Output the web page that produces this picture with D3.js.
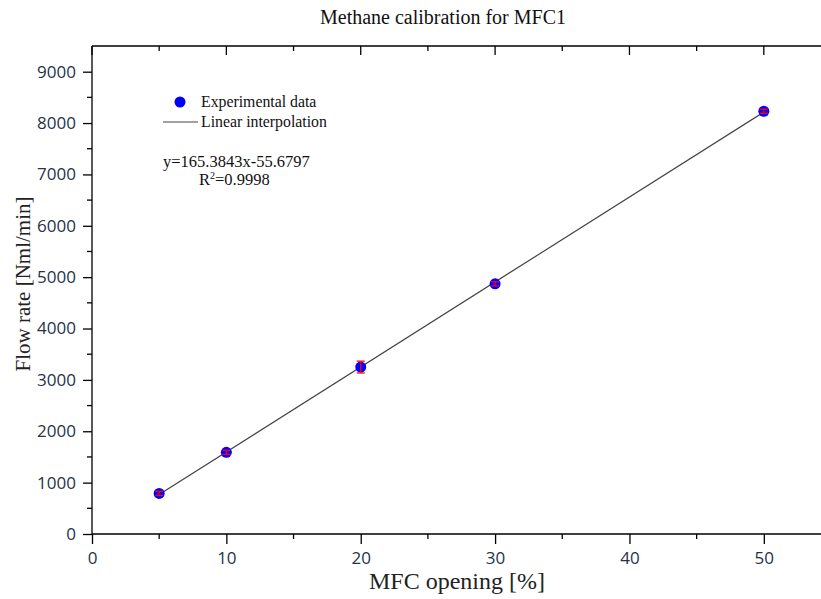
<!DOCTYPE html>
<html>
<head>
<meta charset="utf-8">
<script src="https://cdn.jsdelivr.net/npm/d3@7"></script>
<style>
  body { margin: 0; background: #fff; }
  svg { display: block; }
</style>
</head>
<body>
<svg id="chart" width="821" height="599"></svg>
<script>
const xValues = [5, 10, 20, 30, 50];
const yValues = [790, 1590, 3250, 4870, 8230];
const yErrors = [40, 40, 115, 40, 40];
const xTicks = [0, 10, 20, 30, 40, 50];
const yTicks = [0, 1000, 2000, 3000, 4000, 5000, 6000, 7000, 8000, 9000];
const fitSlope = 165.3843;
const fitIntercept = -55.6797;
const fitRange = [5, 50];

const svg = d3.select("#chart");
const serif = "'Liberation Serif', 'Times New Roman', serif";
const sans = "'Open Sans', 'Liberation Sans', sans-serif";
const tickColor = "#26324a";

const x = d3.scaleLinear().domain([0, 55]).range([92, 831]);
const y = d3.scaleLinear().domain([0, 9500]).range([534, 46]);

// top frame line
svg.append("line").attr("x1", 92).attr("x2", 821).attr("y1", 46).attr("y2", 46)
  .attr("stroke", "#000").attr("stroke-width", 1.3);

// bottom axis
const xAxis = d3.axisBottom(x).tickValues(xTicks).tickSize(10).tickPadding(8).tickFormat(d3.format("d"));
const gx = svg.append("g").attr("transform", "translate(0,534)").call(xAxis);
gx.select(".domain").attr("stroke-width", 1.3).attr("d", "M92,0H831");
gx.selectAll(".tick line").attr("stroke-width", 1.3);
gx.selectAll("text").attr("font-family", sans).attr("font-size", 17).attr("fill", tickColor);
svg.append("g").selectAll("line").data(d3.range(5, 55, 10)).join("line")
  .attr("x1", d => x(d)).attr("x2", d => x(d)).attr("y1", 534).attr("y2", 539)
  .attr("stroke", "#000").attr("stroke-width", 1.3);

// top ticks (inward)
svg.append("g").selectAll("line").data(xTicks).join("line")
  .attr("x1", d => x(d)).attr("x2", d => x(d)).attr("y1", 46).attr("y2", 55)
  .attr("stroke", "#000").attr("stroke-width", 1.3);
svg.append("g").selectAll("line").data(d3.range(5, 55, 10)).join("line")
  .attr("x1", d => x(d)).attr("x2", d => x(d)).attr("y1", 46).attr("y2", 51)
  .attr("stroke", "#000").attr("stroke-width", 1.3);

// left axis
const yAxis = d3.axisLeft(y).tickValues(yTicks).tickSize(9).tickPadding(7).tickFormat(d3.format("d"));
const gy = svg.append("g").attr("transform", "translate(92,0)").call(yAxis);
gy.select(".domain").attr("stroke-width", 1.3).attr("d", "M0,534V46");
gy.selectAll(".tick line").attr("stroke-width", 1.3);
gy.selectAll("text").attr("font-family", sans).attr("font-size", 17).attr("fill", tickColor);
svg.append("g").selectAll("line").data(d3.range(500, 9500, 1000)).join("line")
  .attr("x1", 87).attr("x2", 92).attr("y1", d => y(d)).attr("y2", d => y(d))
  .attr("stroke", "#000").attr("stroke-width", 1.3);

// fit line
svg.append("line")
  .attr("x1", x(fitRange[0])).attr("y1", y(fitSlope * fitRange[0] + fitIntercept))
  .attr("x2", x(fitRange[1])).attr("y2", y(fitSlope * fitRange[1] + fitIntercept))
  .attr("stroke", "#444").attr("stroke-width", 1.2);

// points
const pts = xValues.map((v, i) => ({ x: v, y: yValues[i], e: yErrors[i] }));
svg.append("g").selectAll("circle").data(pts).join("circle")
  .attr("cx", d => x(d.x)).attr("cy", d => y(d.y)).attr("r", 5.5)
  .attr("fill", "#0000ff");
const eb = svg.append("g").attr("stroke", "#ff0000").attr("stroke-width", 1.3);
pts.forEach(d => {
  eb.append("line").attr("x1", x(d.x)).attr("x2", x(d.x)).attr("y1", y(d.y - d.e)).attr("y2", y(d.y + d.e));
  eb.append("line").attr("x1", x(d.x) - 4).attr("x2", x(d.x) + 4).attr("y1", y(d.y - d.e)).attr("y2", y(d.y - d.e));
  eb.append("line").attr("x1", x(d.x) - 4).attr("x2", x(d.x) + 4).attr("y1", y(d.y + d.e)).attr("y2", y(d.y + d.e));
});

// legend
svg.append("circle").attr("cx", 180).attr("cy", 102).attr("r", 5.5).attr("fill", "#0000ff");
svg.append("text").attr("x", 201).attr("y", 107).text("Experimental data")
  .attr("font-family", serif).attr("font-size", 15.8).attr("fill", "#111");
svg.append("line").attr("x1", 163).attr("x2", 198).attr("y1", 122).attr("y2", 122)
  .attr("stroke", "#444").attr("stroke-width", 1.2);
svg.append("text").attr("x", 201).attr("y", 127).text("Linear interpolation")
  .attr("font-family", serif).attr("font-size", 15.8).attr("fill", "#111");

// equation
svg.append("text").attr("x", 163).attr("y", 167).text("y=165.3843x-55.6797")
  .attr("font-family", serif).attr("font-size", 16.5).attr("fill", "#111");
const r2 = svg.append("text").attr("x", 199).attr("y", 185)
  .attr("font-family", serif).attr("font-size", 16.5).attr("fill", "#111");
r2.append("tspan").text("R");
r2.append("tspan").text("2").attr("font-size", 10).attr("dy", -6);
r2.append("tspan").text("=0.9998").attr("dy", 6);

// title
svg.append("text").attr("x", 443).attr("y", 24).attr("text-anchor", "middle")
  .text("Methane calibration for MFC1")
  .attr("font-family", serif).attr("font-size", 20).attr("fill", "#111");

// axis labels
svg.append("text").attr("x", 457).attr("y", 589).attr("text-anchor", "middle")
  .text("MFC opening [%]")
  .attr("font-family", serif).attr("font-size", 24).attr("fill", "#222");
svg.append("text").attr("transform", "translate(30,284) rotate(-90)").attr("text-anchor", "middle")
  .text("Flow rate [Nml/min]")
  .attr("font-family", serif).attr("font-size", 21).attr("fill", "#222");
</script>
</body>
</html>
